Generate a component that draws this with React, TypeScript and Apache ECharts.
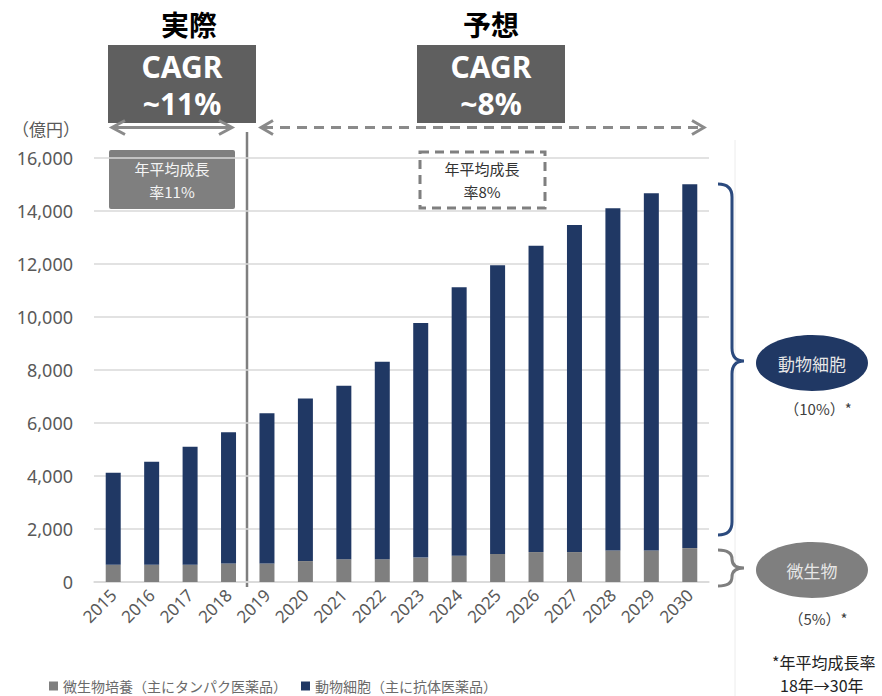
import React, { useEffect, useRef } from "react";
import * as echarts from "echarts";

const years = ["2015", "2016", "2017", "2018", "2019", "2020", "2021", "2022", "2023", "2024", "2025", "2026", "2027", "2028", "2029", "2030"];
// 微生物培養 (億円)
const microbial = [650, 650, 650, 700, 700, 790, 860, 860, 920, 990, 1060, 1130, 1130, 1190, 1190, 1280];
// 動物細胞 (億円)
const animalCell = [3470, 3890, 4450, 4950, 5670, 6130, 6550, 7450, 8850, 10130, 10890, 11560, 12340, 12910, 13480, 13730];
const seriesNames = ["微生物培養（主にタンパク医薬品）", "動物細胞（主に抗体医薬品）"];
const yTicks = [0, 2000, 4000, 6000, 8000, 10000, 12000, 14000, 16000];

const JP = '"Noto Sans CJK JP", "Noto Sans", sans-serif';
const NUM = '"Noto Sans", "Noto Sans CJK JP", sans-serif';
const NAVY = "#203864";
const GRAY = "#7f7f7f";

echarts.graphic.registerShape(
  "braceBlue",
  echarts.graphic.extendPath(
    "M718,184 Q732,184 732,197 L732,348 Q732,361 744,361 Q732,361 732,374 L732,522 Q732,535 718,535",
    {}
  )
);
echarts.graphic.registerShape(
  "braceGray",
  echarts.graphic.extendPath(
    "M718,550 Q732,550 732,559 Q732,568 744,568 Q732,568 732,577 Q732,586 718,586",
    {}
  )
);

function txt(x: number, y: number, text: string, size: number, fill: string, opts: any = {}) {
  return {
    type: "text",
    x,
    y,
    style: {
      text,
      fontSize: size,
      fontFamily: opts.family || JP,
      fontWeight: opts.weight || "normal",
      fill,
      align: opts.align || "center",
      verticalAlign: "middle",
      lineHeight: opts.lineHeight,
    },
  };
}

export default function App() {
  const ref = useRef<HTMLDivElement>(null);
  useEffect(() => {
    const chart = echarts.init(ref.current!, null, { renderer: "svg" });
    const option: any = {
      animation: false,
      backgroundColor: "#ffffff",
      grid: { left: 94, right: 173, top: 158, bottom: 114, containLabel: false },
      legend: {
        left: 44,
        top: 674,
        icon: "rect",
        itemWidth: 9,
        itemHeight: 9,
        itemGap: 14,
        textStyle: { fontSize: 14, color: "#6a6a6a", fontFamily: JP },
        data: seriesNames,
      },
      xAxis: {
        type: "category",
        data: years,
        axisLine: { lineStyle: { color: "#d9d9d9", width: 1.5 } },
        axisTick: { show: false },
        axisLabel: { rotate: 45, fontSize: 17, color: "#595959", fontFamily: NUM, margin: 10 },
      },
      yAxis: {
        type: "value",
        min: yTicks[0],
        max: yTicks[yTicks.length - 1],
        interval: 2000,
        axisLine: { show: false },
        axisTick: { show: false },
        splitLine: { lineStyle: { color: "#d9d9d9", width: 1.5 } },
        axisLabel: {
          fontSize: 18,
          color: "#595959",
          fontFamily: NUM,
          margin: 21,
          formatter: (v: number) => v.toLocaleString("en-US"),
        },
      },
      series: [
        {
          name: seriesNames[0],
          type: "bar",
          stack: "total",
          barWidth: 15,
          data: microbial,
          itemStyle: { color: GRAY },
        },
        {
          name: seriesNames[1],
          type: "bar",
          stack: "total",
          barWidth: 15,
          data: animalCell,
          itemStyle: { color: NAVY },
        },
      ],
      graphic: [
        // faint right border
        { type: "line", shape: { x1: 735, y1: 140, x2: 735, y2: 696 }, style: { stroke: "#ececec", lineWidth: 1 } },
        // y unit
        txt(12, 128, "（億円）", 17, "#595959", { align: "left" }),
        // separator
        { type: "line", shape: { x1: 247, y1: 132, x2: 247, y2: 587 }, style: { stroke: GRAY, lineWidth: 2.5 } },
        // headings
        txt(189, 24, "実際", 28, "#000", { weight: "bold" }),
        txt(491, 24, "予想", 28, "#000", { weight: "bold" }),
        { type: "rect", shape: { x: 108, y: 45, width: 148, height: 78 }, style: { fill: "#5f5f5f" } },
        txt(182, 85, "CAGR\n~11%", 30, "#fff", { weight: "bold", family: NUM, lineHeight: 37 }),
        { type: "rect", shape: { x: 417, y: 45, width: 148, height: 78 }, style: { fill: "#5f5f5f" } },
        txt(491, 85, "CAGR\n~8%", 30, "#fff", { weight: "bold", family: NUM, lineHeight: 37 }),
        // solid double arrow
        { type: "line", shape: { x1: 113, y1: 127.5, x2: 231, y2: 127.5 }, style: { stroke: "#8a8a8a", lineWidth: 3 } },
        { type: "polyline", shape: { points: [[125, 120.5], [112, 127.5], [125, 134.5]] }, style: { stroke: "#8a8a8a", lineWidth: 3, fill: "none" } },
        { type: "polyline", shape: { points: [[219, 120.5], [232, 127.5], [219, 134.5]] }, style: { stroke: "#8a8a8a", lineWidth: 3, fill: "none" } },
        // dashed double arrow
        { type: "line", shape: { x1: 263, y1: 127.5, x2: 702, y2: 127.5 }, style: { stroke: "#8a8a8a", lineWidth: 3, lineDash: [10, 7] } },
        { type: "polyline", shape: { points: [[273, 120.5], [261, 127.5], [273, 134.5]] }, style: { stroke: "#8a8a8a", lineWidth: 3, fill: "none" } },
        { type: "polyline", shape: { points: [[692, 120.5], [704, 127.5], [692, 134.5]] }, style: { stroke: "#8a8a8a", lineWidth: 3, fill: "none" } },
        // inner boxes
        { type: "rect", shape: { x: 109, y: 150, width: 126, height: 59, r: 2 }, style: { fill: GRAY } },
        txt(172, 180, "年平均成長\n率11%", 15, "#f4f4f4", { lineHeight: 23 }),
        { type: "rect", shape: { x: 420, y: 152, width: 125, height: 56 }, style: { fill: "#fff", stroke: GRAY, lineWidth: 3, lineDash: [9, 6] } },
        txt(482, 180, "年平均成長\n率8%", 15, "#333", { lineHeight: 23 }),
        // braces
        { type: "braceBlue", x: 0, y: 0, style: { stroke: "#2b4a7e", lineWidth: 3, fill: "none" } },
        { type: "braceGray", x: 0, y: 0, style: { stroke: GRAY, lineWidth: 3, fill: "none" } },
        // ellipses
        { type: "ellipse", shape: { cx: 812, cy: 363, rx: 56, ry: 28 }, style: { fill: NAVY } },
        txt(812, 363, "動物細胞", 17, "#e6e6e6"),
        txt(818, 408, "（10%）*", 15, "#404040"),
        { type: "ellipse", shape: { cx: 812, cy: 570, rx: 56, ry: 28 }, style: { fill: GRAY } },
        txt(812, 570, "微生物", 17, "#e6e6e6"),
        txt(818, 618, "（5%）*", 15, "#404040"),
        // footnote
        txt(772, 662, "*年平均成長率", 16, "#222", { align: "left" }),
        txt(780, 685, "18年→30年", 16, "#222", { align: "left" }),
      ],
    };
    chart.setOption(option);
    return () => chart.dispose();
  }, []);
  return <div ref={ref} style={{ position: "absolute", left: 0, top: 0, width: 882, height: 696 }} />;
}
